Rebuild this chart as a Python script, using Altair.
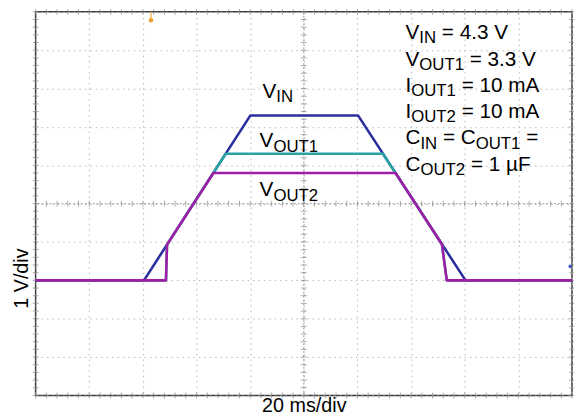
import altair as alt
import pandas as pd

# ---- trace data (time in ms, voltage in V) ----
vin_t = [0, 40.4, 80.1, 120.2, 160.3, 200]
vin_v = [0, 0, 4.3, 4.3, 0, 0]
vout1_t = [0, 48.6, 49.0, 70.9, 129.5, 151.5, 153.3, 200]
vout1_v = [0, 0, 0.93, 3.3, 3.3, 0.94, 0, 0]
vout2_t = [0, 48.6, 49.0, 66.3, 134.2, 151.5, 153.3, 200]
vout2_v = [0, 0, 0.93, 2.8, 2.8, 0.94, 0, 0]

series_names = ["VIN", "VOUT1", "VOUT2"]
series_colors = ["#2b2f9e", "#27a3a3", "#a01ea6"]

# grid: 10 x 10 divisions, 20 ms/div and 1 V/div
x_grid = [0, 20, 40, 60, 80, 100, 120, 140, 160, 180, 200]
y_grid = [-3, -2, -1, 0, 1, 2, 3, 4, 5, 6, 7]

# ---- labels: segments (text, is_subscript) ----
plot_labels = [
    (84.6, 4.76, [("V", 0), ("IN", 1)]),
    (83.5, 3.47, [("V", 0), ("OUT1", 1)]),
    (83.5, 2.19, [("V", 0), ("OUT2", 1)]),
]
block_x = 137.9
block_y = [6.30, 5.60, 4.91, 4.24, 3.55, 2.85]
block_lines = [
    [("V", 0), ("IN", 1), (" = 4.3 V", 0)],
    [("V", 0), ("OUT1", 1), (" = 3.3 V", 0)],
    [("I", 0), ("OUT1", 1), (" = 10 mA", 0)],
    [("I", 0), ("OUT2", 1), (" = 10 mA", 0)],
    [("C", 0), ("IN", 1), (" = C", 0), ("OUT1", 1), (" =", 0)],
    [("C", 0), ("OUT2", 1), (" = 1 \u00b5F", 0)],
]

W, H = 544, 389
XD, YD = [0, 200], [-3, 7]
MAIN_FS, SUB_FS = 21, 17
SUB_DROP_PX = 4.5
FONT = "Liberation Sans"

# Arial / Liberation Sans advance widths (per 1000 em)
AW = {" ": 278, "=": 584, ".": 278, "V": 667, "I": 278, "N": 722, "O": 778,
      "U": 722, "T": 611, "C": 722, "m": 833, "A": 667, "F": 611, "\u00b5": 576}
for d in "0123456789":
    AW[d] = 556


def text_w(s, fs):
    return sum(AW.get(c, 556) for c in s) * fs / 1000.0


ms_per_px = (XD[1] - XD[0]) / W
v_per_px = (YD[1] - YD[0]) / H

main_rows, sub_rows = [], []


def add_label(x0, y0, segs):
    xpx = 0.0
    for txt, sub in segs:
        fs = SUB_FS if sub else MAIN_FS
        lead = len(txt) - len(txt.lstrip(" "))
        xpx += text_w(" " * lead, fs)
        body = txt.lstrip(" ")
        row = {"t": x0 + xpx * ms_per_px,
               "v": y0 - (SUB_DROP_PX * v_per_px if sub else 0),
               "txt": body}
        (sub_rows if sub else main_rows).append(row)
        xpx += text_w(body, fs)


for x0, y0, segs in plot_labels:
    add_label(x0, y0, segs)
for y0, segs in zip(block_y, block_lines):
    add_label(block_x, y0, segs)

# ---- data frames ----
rows = []
for name, ts, vs in [("VIN", vin_t, vin_v), ("VOUT1", vout1_t, vout1_v), ("VOUT2", vout2_t, vout2_v)]:
    for i, (t, v) in enumerate(zip(ts, vs)):
        rows.append({"series": name, "t": t, "v": v, "i": i})
traces = pd.DataFrame(rows)

xs = alt.Scale(domain=XD, nice=False, zero=False)
ys = alt.Scale(domain=YD, nice=False, zero=False)

xaxis = alt.Axis(values=x_grid, labels=False, ticks=False, domain=False, grid=True,
                 gridColor="#b8b8b8", gridDash=[1.5, 4], gridWidth=1,
                 title="20 ms/div", titleFont=FONT, titleFontSize=20, titleFontWeight="normal",
                 titleColor="#000000", titleX=W / 2, titleY=16, titleAlign="center",
                 titleBaseline="alphabetic")
yaxis = alt.Axis(values=y_grid, labels=False, ticks=False, domain=False, grid=True,
                 gridColor="#b8b8b8", gridDash=[1.5, 4], gridWidth=1,
                 title="1 V/div", titleFont=FONT, titleFontSize=20, titleFontWeight="normal",
                 titleColor="#000000", titleAngle=270, titleX=-14, titleY=270,
                 titleAlign="center", titleBaseline="middle")


def X(field="t"):
    return alt.X(f"{field}:Q", scale=xs, axis=xaxis)


def Y(field="v"):
    return alt.Y(f"{field}:Q", scale=ys, axis=yaxis)


# center lines
cx = alt.Chart(pd.DataFrame({"t": [100]})).mark_rule(color="#a0a0a0", strokeDash=[2, 2], strokeWidth=1).encode(x=X())
cy = alt.Chart(pd.DataFrame({"v": [2]})).mark_rule(color="#a0a0a0", strokeDash=[2, 2], strokeWidth=1).encode(y=Y())

# minor ticks (1/5 division) on center lines and frame
minor_t = [i * 4 for i in range(51)]
minor_v = [round(-3 + i * 0.2, 2) for i in range(51)]
vt_rows = [{"t": t, "v": v} for v in [7, 2, -3] for t in minor_t]
ht_rows = [{"t": t, "v": v} for t in [0, 100, 200] for v in minor_v]
vticks = alt.Chart(pd.DataFrame(vt_rows)).mark_tick(orient="vertical", size=6, thickness=1, color="#8a8a8a").encode(x=X(), y=Y())
hticks = alt.Chart(pd.DataFrame(ht_rows)).mark_tick(orient="horizontal", size=6, thickness=1, color="#8a8a8a").encode(x=X(), y=Y())

lines = alt.Chart(traces).mark_line(strokeWidth=2.6, strokeJoin="round").encode(
    x=X(), y=Y(),
    color=alt.Color("series:N", scale=alt.Scale(domain=series_names, range=series_colors), legend=None),
    order=alt.Order("i:Q"),
)

# scope markers
trig = alt.Chart(pd.DataFrame({"t": [43.0], "v": [6.78]})).mark_point(
    shape="circle", filled=True, size=22, color="#f0a030", opacity=1).encode(x=X(), y=Y())
trig_stem = alt.Chart(pd.DataFrame({"t": [43.0], "v": [6.84], "v2": [6.98]})).mark_rule(
    color="#f4b860", strokeWidth=1.5).encode(x=X(), y=Y(), y2="v2:Q")
lvl = alt.Chart(pd.DataFrame({"t": [199.3], "v": [0.36]})).mark_point(
    shape="circle", filled=True, size=12, color="#3a55d0", opacity=1).encode(x=X(), y=Y())

main_txt = alt.Chart(pd.DataFrame(main_rows)).mark_text(
    align="left", baseline="alphabetic", font=FONT, fontSize=MAIN_FS, color="#000000").encode(
    x=X(), y=Y(), text="txt:N")
sub_txt = alt.Chart(pd.DataFrame(sub_rows)).mark_text(
    align="left", baseline="alphabetic", font=FONT, fontSize=SUB_FS, color="#000000").encode(
    x=X(), y=Y(), text="txt:N")

chart = alt.layer(cx, cy, vticks, hticks, lines, trig_stem, trig, lvl, main_txt, sub_txt).properties(
    width=W, height=H,
    padding={"left": 28, "top": 1, "right": 2, "bottom": 20},
    autosize=alt.AutoSizeParams(type="none"),
    background="white",
).configure_view(stroke="#3a3a3a", strokeWidth=1.5)

chart.save("out.html", embed_options={"renderer": "svg", "actions": False})
